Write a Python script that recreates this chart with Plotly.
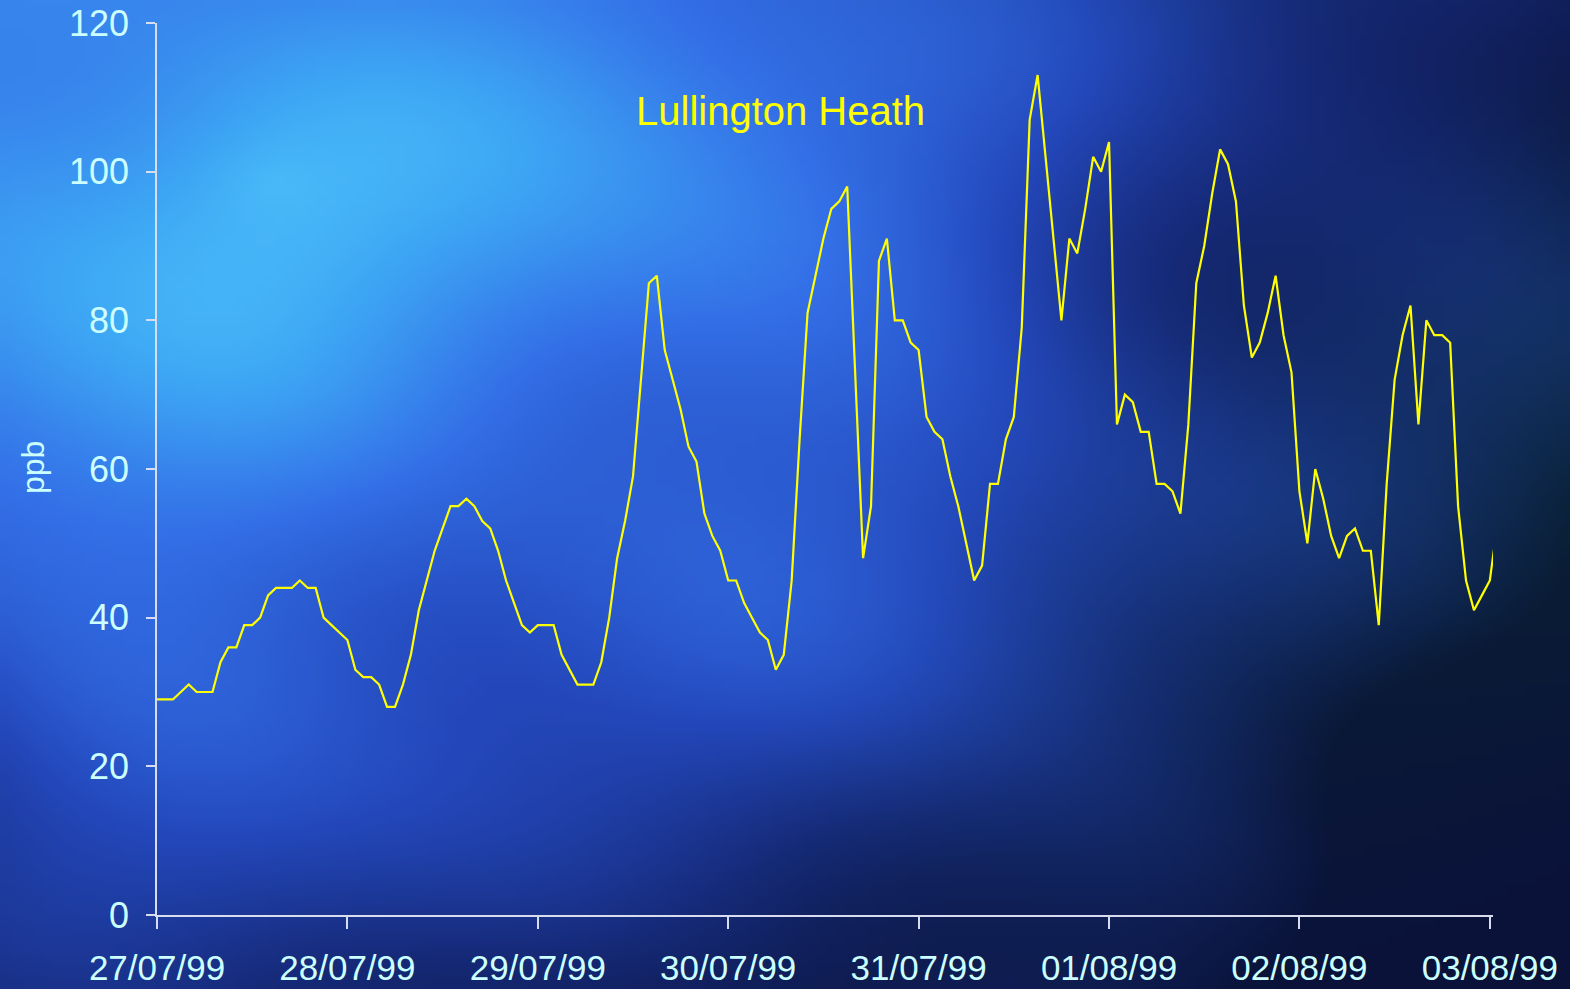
import base64, struct, zlib
import numpy as np
import pandas as pd
import plotly.graph_objects as go

# ---------------- data ----------------
start_time = "1999-07-27 00:00"
ozone_ppb = [
    29, 29, 29, 30, 31, 30, 30, 30, 34, 36, 36, 39, 39, 40, 43, 44, 44, 44, 45, 44, 44, 40, 39, 38,
    37, 33, 32, 32, 31, 28, 28, 31, 35, 41, 45, 49, 52, 55, 55, 56, 55, 53, 52, 49, 45, 42, 39, 38,
    39, 39, 39, 35, 33, 31, 31, 31, 34, 40, 48, 53, 59, 72, 85, 86, 76, 72, 68, 63, 61, 54, 51, 49,
    45, 45, 42, 40, 38, 37, 33, 35, 45, 64, 81, 86, 91, 95, 96, 98, 72, 48, 55, 88, 91, 80, 80, 77,
    76, 67, 65, 64, 59, 55, 50, 45, 47, 58, 58, 64, 67, 79, 107, 113, 102, 91, 80, 91, 89, 95, 102, 100,
    104, 66, 70, 69, 65, 65, 58, 58, 57, 54, 66, 85, 90, 97, 103, 101, 96, 82, 75, 77, 81, 86, 78, 73,
    57, 50, 60, 56, 51, 48, 51, 52, 49, 49, 39, 58, 72, 78, 82, 66, 80, 78, 78, 77, 55, 45, 41, 43,
    45, 53,
]
times = pd.date_range(start_time, periods=len(ozone_ppb), freq="h")
title_text = "Lullington Heath"
y_label = "ppb"
y_ticks = [0, 20, 40, 60, 80, 100, 120]

# ---------------- background texture (generated png) ----------------
def make_png(arr):
    h, w, _ = arr.shape
    raw = b"".join(b"\x00" + arr[r].tobytes() for r in range(h))
    def chunk(t, data):
        return struct.pack(">I", len(data)) + t + data + struct.pack(">I", zlib.crc32(t + data) & 0xffffffff)
    ihdr = struct.pack(">IIBBBBB", w, h, 8, 2, 0, 0, 0)
    return b"\x89PNG\r\n\x1a\n" + chunk(b"IHDR", ihdr) + chunk(b"IDAT", zlib.compress(raw)) + chunk(b"IEND", b"")

W, H = 157, 99
u, v = np.meshgrid(np.linspace(0, 1, W), np.linspace(0, 1, H))
r = np.sqrt(((u - 0.17) / 0.85) ** 2 + ((v - 0.18) / 1.05) ** 2)
d = 0.1 + 0.85 * r
d += 0.07 * np.sin(9 * u + 4 * v) * np.cos(7 * v - 3 * u + 0.5)
d += 0.05 * np.sin(15 * u - 6 * v + 1.3) * np.sin(11 * v + 2 * u)
d += 0.12 * np.clip(v - 0.7, 0, 1) * (1 - u)
d = np.clip(d, 0, 1)
stops = np.array([0.0, 0.2, 0.4, 0.6, 0.8, 1.0])
cols = np.array([
    [95, 220, 255],
    [62, 168, 245],
    [52, 112, 232],
    [36, 72, 188],
    [22, 42, 120],
    [10, 18, 58],
])
img = np.stack([np.interp(d, stops, cols[:, k]) for k in range(3)], axis=-1)
tint = np.clip((u - 0.45) * 1.4, 0, 1) * (0.5 + 0.5 * np.sin(6 * v + 5 * u)) * (1 - v * 0.6)
img[..., 1] += 25 * tint
img[..., 2] -= 10 * tint
img = np.clip(img, 0, 255).astype(np.uint8)
bg_uri = "data:image/png;base64," + base64.b64encode(make_png(img)).decode()

# ---------------- figure ----------------
FIG_W, FIG_H = 1570, 989
ML, MR, MT, MB = 157, 77, 23, 74
PW, PH = FIG_W - ML - MR, FIG_H - MT - MB

font_family = "Liberation Sans, Arial, sans-serif"
label_color = "#ccffff"
axis_color = "#d8dcef"

fig = go.Figure()
fig.add_trace(go.Scatter(
    x=times, y=ozone_ppb, mode="lines",
    line=dict(color="#ffff00", width=2.2),
    hoverinfo="x+y", showlegend=False,
))

fig.update_layout(
    width=FIG_W, height=FIG_H,
    margin=dict(l=ML, r=MR, t=MT, b=MB, pad=0, autoexpand=False),
    paper_bgcolor="#1a3a9a",
    plot_bgcolor="rgba(0,0,0,0)",
    font=dict(family=font_family, color=label_color, size=35),
    images=[dict(
        source=bg_uri, xref="paper", yref="paper",
        x=-ML / PW, y=1 + MT / PH, sizex=FIG_W / PW, sizey=FIG_H / PH,
        xanchor="left", yanchor="top", sizing="stretch", layer="below",
    )],
    xaxis=dict(
        type="date", automargin=False,
        range=["1999-07-27 00:00", "1999-08-03 00:24"],
        tick0="1999-07-27", dtick=86400000, tickformat="%d/%m/%y",
        showgrid=False, zeroline=False,
        showline=True, linecolor=axis_color, linewidth=1.5,
        ticks="outside", ticklen=12, tickwidth=1.5, tickcolor=axis_color,
        tickfont=dict(size=35, color=label_color, family=font_family),
        ticklabelstandoff=9,
    ),
    yaxis=dict(
        range=[0, 120], tickvals=y_ticks, automargin=False,
        showgrid=False, zeroline=False,
        showline=True, linecolor=axis_color, linewidth=1.5,
        ticks="outside", ticklen=9, tickwidth=1.5, tickcolor=axis_color,
        tickfont=dict(size=36, color=label_color, family=font_family),
        ticklabelstandoff=10,
    ),
    annotations=[
        dict(text=title_text, xref="paper", yref="paper",
             x=(780 - ML) / PW, y=(FIG_H - MB - 111) / PH,
             xanchor="center", yanchor="middle", showarrow=False,
             font=dict(size=40, color="#ffff00", family=font_family)),
        dict(text=y_label, xref="paper", yref="paper",
             x=(33 - ML) / PW, y=(FIG_H - MB - 468) / PH,
             xanchor="center", yanchor="middle", showarrow=False, textangle=-90,
             font=dict(size=32, color=label_color, family=font_family)),
    ],
)

fig.write_html(
    "out.html",
    config={"displayModeBar": False},
    post_script="document.body.style.margin='0';document.body.style.overflow='hidden';",
)
